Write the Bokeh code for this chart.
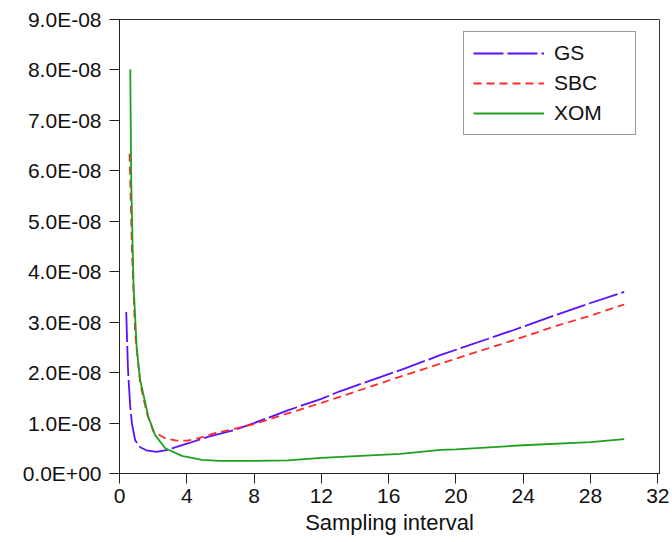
from bokeh.plotting import figure
from bokeh.models import Range1d, FixedTicker, CustomJSTickFormatter
from bokeh.embed import file_html
from bokeh.resources import INLINE

# --- data ---
gs_x = [0.40, 0.50, 0.54, 0.64, 0.74, 0.93, 1.23, 1.60, 2.20, 2.90, 3.40, 4.10, 5.30, 6.90,
        8.0, 10.0, 12.0, 13.1, 16.7, 19.1, 23.4, 26.0, 28.0, 30.0]
gs_y = [3.20e-8, 2.11e-8, 1.85e-8, 1.32e-8, 0.99e-8, 0.66e-8, 0.52e-8, 0.46e-8, 0.43e-8, 0.47e-8,
        0.53e-8, 0.60e-8, 0.73e-8, 0.87e-8, 1.00e-8, 1.25e-8, 1.48e-8, 1.63e-8, 2.05e-8, 2.35e-8,
        2.84e-8, 3.15e-8, 3.38e-8, 3.60e-8]

sbc_x = [0.60, 0.74, 0.93, 1.23, 1.63, 2.02, 2.72, 3.40, 4.00, 4.70, 5.69, 6.88, 8.0, 10.0,
         12.0, 13.1, 16.7, 19.1, 23.4, 26.0, 28.0, 30.0]
sbc_y = [6.34e-8, 4.43e-8, 2.78e-8, 1.79e-8, 1.19e-8, 0.83e-8, 0.70e-8, 0.65e-8, 0.65e-8, 0.70e-8,
         0.80e-8, 0.89e-8, 0.98e-8, 1.19e-8, 1.40e-8, 1.52e-8, 1.92e-8, 2.18e-8, 2.64e-8, 2.93e-8,
         3.13e-8, 3.35e-8]

xom_x = [0.64, 0.70, 0.83, 1.03, 1.23, 1.72, 2.12, 2.72, 3.71, 4.90, 6.0, 8.0, 10.0, 12.0,
         16.7, 19.1, 20.0, 24.0, 28.0, 30.0]
xom_y = [8.01e-8, 5.75e-8, 3.77e-8, 2.45e-8, 1.85e-8, 1.12e-8, 0.76e-8, 0.50e-8, 0.35e-8, 0.27e-8,
         0.25e-8, 0.25e-8, 0.26e-8, 0.31e-8, 0.39e-8, 0.47e-8, 0.48e-8, 0.56e-8, 0.62e-8, 0.68e-8]

x_ticks = [0, 4, 8, 12, 16, 20, 24, 28, 32]
y_ticks = [0, 1e-8, 2e-8, 3e-8, 4e-8, 5e-8, 6e-8, 7e-8, 8e-8, 9e-8]

FONT = "Liberation Sans"

p = figure(width=672, height=542, output_backend="svg", toolbar_location=None,
           x_range=Range1d(0, 32.1), y_range=Range1d(0, 9e-8),
           min_border_left=119, min_border_right=13, min_border_top=19, min_border_bottom=69)

p.background_fill_color = "white"
p.border_fill_color = "white"
p.outline_line_color = "#333333"
p.outline_line_width = 1
p.xgrid.visible = False
p.ygrid.visible = False

p.line(gs_x, gs_y, line_color="#5a10ff", line_width=1.8, line_dash="30 4", legend_label="GS")
p.line(sbc_x, sbc_y, line_color="#ff2a2a", line_width=1.8, line_dash="8 5", legend_label="SBC")
p.line(xom_x, xom_y, line_color="#1fa01f", line_width=1.8, legend_label="XOM")

# axes
p.xaxis.ticker = FixedTicker(ticks=x_ticks)
p.yaxis.ticker = FixedTicker(ticks=y_ticks)
p.yaxis.formatter = CustomJSTickFormatter(code="""
const s = Math.abs(tick) < 1e-20 ? (0).toExponential(1) : tick.toExponential(1);
const parts = s.split('e');
const sign = parts[1][0];
const d = parts[1].slice(1).padStart(2, '0');
return parts[0] + 'E' + sign + d;
""")
for ax in (p.xaxis[0], p.yaxis[0]):
    ax.axis_line_color = "#222222"
    ax.major_tick_line_color = "#222222"
    ax.major_tick_out = 10
    ax.major_tick_in = 0
    ax.minor_tick_line_color = None
    ax.major_label_text_font = FONT
    ax.major_label_text_font_size = "21px"
    ax.major_label_text_color = "#111111"

p.yaxis.major_label_standoff = 8
p.xaxis.major_label_standoff = 5
p.xaxis.axis_label = "Sampling interval"
p.xaxis.axis_label_text_font = FONT
p.xaxis.axis_label_text_font_size = "22px"
p.xaxis.axis_label_text_font_style = "normal"
p.xaxis.axis_label_text_color = "#111111"
p.xaxis.axis_label_standoff = 4

# legend
lg = p.legend[0]
lg.location = (344, 338)
lg.border_line_color = "#333333"
lg.border_line_width = 1
lg.background_fill_color = "white"
lg.background_fill_alpha = 1
lg.label_text_font = FONT
lg.label_text_font_size = "21px"
lg.label_text_color = "#111111"
lg.glyph_width = 71
lg.glyph_height = 24
lg.label_height = 24
lg.label_width = 72
lg.label_standoff = 10
lg.spacing = 6
lg.padding = 9
lg.margin = 0

open("out.html", "w").write(file_html(p, INLINE))
